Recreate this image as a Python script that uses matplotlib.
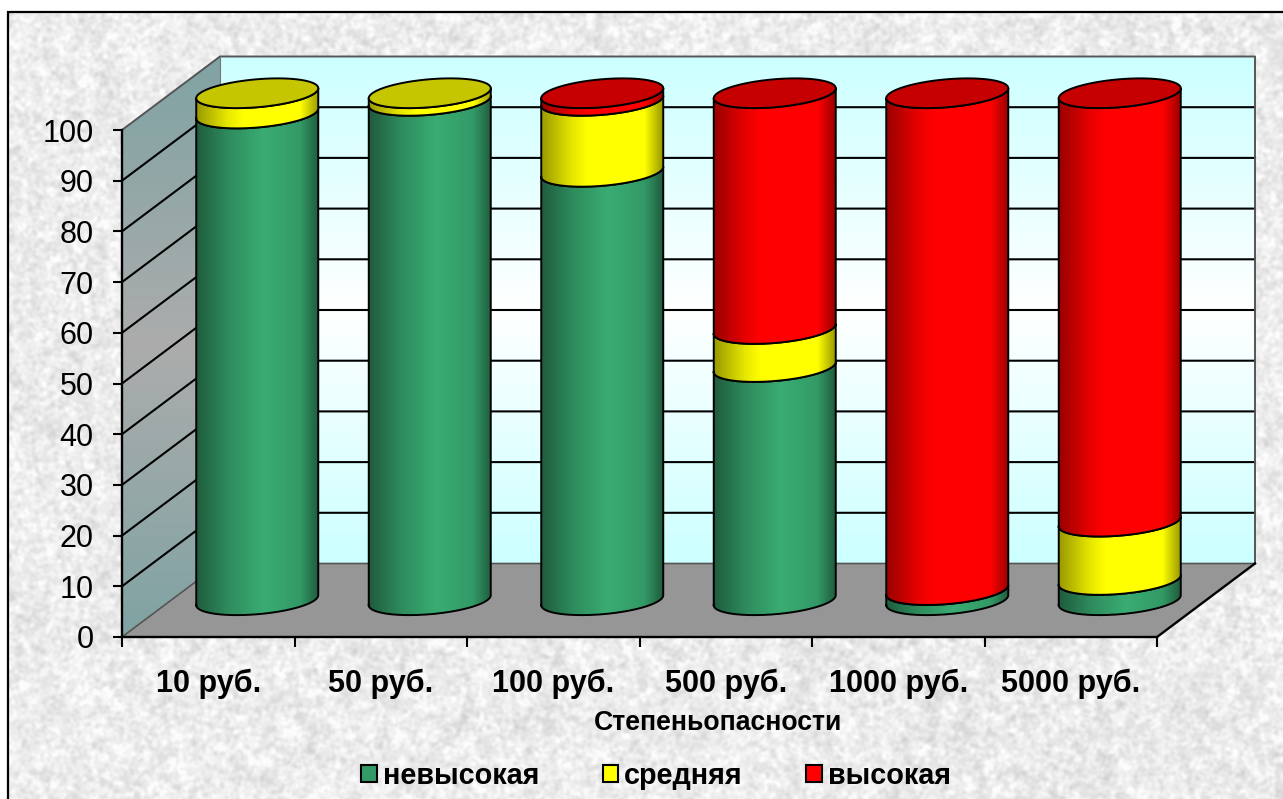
import numpy as np
import matplotlib
matplotlib.use("Agg")
import matplotlib.pyplot as plt
from matplotlib.patches import Polygon, Patch
from matplotlib.colors import to_rgb

plt.rcParams['font.family'] = ['Liberation Sans', 'DejaVu Sans']

categories = ["10 руб.", "50 руб.", "100 руб.", "500 руб.", "1000 руб.", "5000 руб."]
series_names = ["невысокая", "средняя", "высокая"]
nevysokaya = [96, 98.5, 84.5, 46, 2, 4]
srednyaya = [4, 1.5, 14, 7.5, 0, 11.5]
vysokaya = [0, 0, 1.5, 46.5, 98, 84.5]
series_colors = ["#339966", "#ffff00", "#ff0000"]
top_colors = ["#2a8055", "#c6c600", "#c60000"]
y_ticks = list(range(0, 101, 10))
axis_title = "Степеньопасности"

W, H = 1283, 799
fig = plt.figure(figsize=(W / 100, H / 100), dpi=100, facecolor="white")

# ---------- textured backdrop ----------
bg = fig.add_axes([0, 0, 1, 1], zorder=-1)
yy, xx = np.mgrid[0:H, 0:W]
h = np.sin(xx * 12.9898 + yy * 78.233) * 43758.5453
h = h - np.floor(h)
fx = np.fft.fftfreq(W)[None, :]
fy = np.fft.fftfreq(H)[:, None]
F = np.fft.fft2(h)
def blur(sig):
    out = np.fft.ifft2(F * np.exp(-2 * (np.pi * sig) ** 2 * (fx ** 2 + fy ** 2))).real
    return (out - out.mean()) / out.std()
tex = 0.925 + 0.024 * blur(1.6) + 0.008 * blur(5.0)
tex = np.clip(tex, 0.76, 0.985)
tex[:11, :] = 1
tex[:, :7] = 1
bg.imshow(tex, cmap="gray", vmin=0, vmax=1, extent=(0, W, H, 0), aspect="auto", interpolation="bilinear")
bg.plot([8, 8, W], [H, 12, 12], color="black", lw=1.6, solid_joinstyle="miter")
bg.set_xlim(0, W)
bg.set_ylim(H, 0)
bg.axis("off")

# ---------- main axes: front plane of the chart ----------
X0, X1, Y0, Y100 = 122, 1157, 637, 130
ax = fig.add_axes([X0 / W, 1 - Y0 / H, (X1 - X0) / W, (Y0 - Y100) / H], zorder=1)
ax.patch.set_visible(False)
n = len(categories)
px_x = (X1 - X0) / n
px_y = (Y0 - Y100) / 100
DX = 98 / px_x
DY = 73.5 / px_y
XMAX, YMAX = n, 100

def clipped_image(arr, extent, clip_xy, z, **kw):
    im = ax.imshow(arr, extent=extent, aspect="auto", origin="upper", zorder=z, interpolation="bilinear", **kw)
    clip = Polygon(clip_xy, closed=True, transform=ax.transData)
    im.set_clip_box(fig.bbox)
    im.set_clip_path(clip)
    im.set_clip_on(True)
    return im

# back wall
grad = np.linspace(0, 1, 256)
wall = np.interp(grad, [0, 0.5, 1], [0, 1, 0])
back = np.zeros((256, 1, 3))
c1 = np.array(to_rgb("#ccffff"))
for k in range(3):
    back[:, 0, k] = c1[k] + (1 - c1[k]) * wall
bxy = [(DX, DY), (XMAX + DX, DY), (XMAX + DX, YMAX + DY), (DX, YMAX + DY)]
clipped_image(back, (DX, XMAX + DX, DY, YMAX + DY), bxy, 1)

# left wall
left = np.zeros((256, 1, 3))
c2 = np.array(to_rgb("#80a3a3"))
c3 = np.array(to_rgb("#acacac"))
for k in range(3):
    left[:, 0, k] = c2[k] + (c3[k] - c2[k]) * wall
lxy = [(0, 0), (DX, DY), (DX, YMAX + DY), (0, YMAX)]
clipped_image(left, (0, DX, 0, YMAX + DY), lxy, 1)

# floor
ax.add_patch(Polygon([(0, 0), (XMAX, 0), (XMAX + DX, DY), (DX, DY)], closed=True,
                     facecolor="#969696", edgecolor="none", zorder=1.5, clip_on=False))

# gridlines
for v in y_ticks[1:-1]:
    ax.plot([0, DX, XMAX + DX], [v, v + DY, v + DY], color="black", lw=1.5, zorder=2, clip_on=False)
ax.plot([0, DX, XMAX + DX, XMAX + DX], [YMAX, YMAX + DY, YMAX + DY, DY], color="#555555", lw=1.4, zorder=2, clip_on=False)
ax.plot([0, DX, XMAX + DX], [0, DY, DY], color="#555555", lw=1.2, zorder=2, clip_on=False)
ax.plot([DX, DX], [DY, YMAX + DY], color="#777777", lw=0.8, zorder=2, clip_on=False)
ax.plot([XMAX, XMAX + DX], [0, DY], color="black", lw=1.7, zorder=2, clip_on=False)

# ---------- cylinders ----------
A = 61 / px_x
B = 14 / px_y
S = 5 / px_y
t = np.linspace(np.pi, 2 * np.pi, 90)
def front(cx, v):
    return cx + A * np.cos(t), v + DY / 2 + B * np.sin(t) + S * np.cos(t)
fac_t = [0, 0.25, 0.55, 0.85, 1]
fac_v = [0.60, 0.90, 1.13, 1.0, 0.60]
g = np.interp(np.linspace(0, 1, 256), fac_t, fac_v)
def gradient(color):
    c = np.array(to_rgb(color))
    return np.clip(g[None, :, None] * c[None, None, :], 0, 1)

series = [nevysokaya, srednyaya, vysokaya]
for i in range(n):
    cx = i + 0.5 + DX / 2
    base = 0
    top_idx = 0
    for s, vals in enumerate(series):
        v = vals[i]
        if v <= 0:
            continue
        x0, y0 = front(cx, base)
        x1, y1 = front(cx, base + v)
        px = np.r_[x0, x1[::-1]]
        py = np.r_[y0, y1[::-1]]
        z = 3 + 0.01 * i + 0.001 * s
        clipped_image(gradient(series_colors[s]),
                      (cx - A, cx + A, py.min() - 1, py.max() + 1),
                      list(zip(px, py)), z)
        ax.plot(np.r_[px, px[0]], np.r_[py, py[0]], color="black", lw=1.4, zorder=z + 0.0005, clip_on=False)
        base += v
        top_idx = s
    u = np.linspace(0, 2 * np.pi, 180)
    ex = cx + A * np.cos(u)
    ey = base + DY / 2 + B * np.sin(u) + S * np.cos(u)
    ax.add_patch(Polygon(list(zip(ex, ey)), closed=True, facecolor=top_colors[top_idx],
                         edgecolor="black", lw=1.4, zorder=3.5 + 0.01 * i, clip_on=False))

# ---------- axes furniture ----------
ax.set_xlim(0, XMAX)
ax.set_ylim(0, YMAX)
ax.spines["top"].set_visible(False)
ax.spines["right"].set_visible(False)
for sp in ("left", "bottom"):
    ax.spines[sp].set_linewidth(1.7)
    ax.spines[sp].set_zorder(5)
ax.set_yticks(y_ticks)
ax.set_yticklabels([str(v) for v in y_ticks], fontsize=22)
ax.tick_params(axis="y", length=6.5, width=1.5, pad=14)
ax.set_xticks(range(n + 1))
ax.set_xticklabels([])
ax.tick_params(axis="x", which="major", length=7, width=1.5)
ax.set_xticks(np.arange(n) + 0.5, minor=True)
ax.set_xticklabels(categories, minor=True, fontsize=22, fontweight="bold")
ax.tick_params(axis="x", which="minor", length=0, pad=23)

fig.text(718 / W, 1 - 723 / H, axis_title, fontsize=19.2, fontweight="bold", ha="center", va="center")

handles = [Patch(facecolor=c, edgecolor="black", lw=1.5) for c in series_colors]
fig.legend(handles, series_names, ncol=3, loc="center", bbox_to_anchor=(656 / W, 1 - 776 / H),
           frameon=False, prop={"size": 20.7, "weight": "bold"}, handlelength=0.55, handleheight=0.55,
           handletextpad=0.2, columnspacing=2.2, borderpad=0, borderaxespad=0)

fig.savefig("out.png", dpi=100)
